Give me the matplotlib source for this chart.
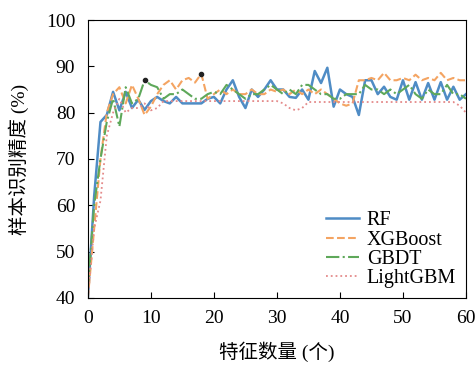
import matplotlib
matplotlib.use("Agg")
import matplotlib.pyplot as plt

plt.rcParams['font.family'] = ['Liberation Serif', 'Noto Sans CJK SC']
plt.rcParams['axes.unicode_minus'] = False

# Number of features 0..60
n_features = list(range(61))

rf = [40, 62, 78, 79.5, 84.5, 80.5, 84.5, 81, 82.8, 80.6,
      82.5, 83.4, 82.5, 82, 83.4, 82, 82, 82, 82, 83,
      83.4, 82, 85, 87, 83.4, 81, 85, 83.4, 85, 87,
      85, 85, 83.4, 83.2, 85, 82.8, 89, 86.4, 89.7, 81.3,
      85, 84, 83.4, 79.5, 87, 87, 84, 85.6, 83.4, 82.8,
      87, 82.8, 86.6, 82.8, 86.4, 82.8, 86.6, 82.8, 85.6, 82.8, 84]

xgboost = [40, 55, 70, 80, 84, 85.5, 82, 86, 83, 79.5,
           81.3, 84, 86, 87, 85, 87, 87.5, 86.5, 88.4, 83,
           84, 85, 84, 85, 84, 84, 85, 84, 84, 85,
           84.5, 85, 84, 85, 84, 85, 84, 85, 84, 83,
           82, 81.5, 82, 87, 87, 87.5, 87, 88.6, 87, 87,
           87.5, 87, 88.2, 87, 87.5, 87, 88.6, 87, 87.5, 87, 87]

gbdt = [42, 60, 70, 78, 83, 77, 85.5, 82, 83, 87,
        86, 85.5, 83, 84, 84, 85, 84, 83, 83, 84,
        84.5, 84, 86, 85, 84, 83, 84, 84, 85, 86,
        85, 84, 85, 84, 86, 86, 85, 84, 84, 83,
        83, 84, 84, 84, 86, 85, 85, 84, 85, 84,
        85, 86, 84, 83, 85, 84, 84, 86, 84, 84, 83]

lightgbm = [40, 55, 61, 75, 80, 83, 80, 81, 81, 82,
            80.5, 81, 82.5, 82.5, 82.5, 82.5, 82.5, 82.5, 82.5, 82.5,
            82.5, 82.5, 82.5, 82.5, 82.5, 82.5, 82.5, 82.5, 82.5, 82.5,
            82.5, 82, 81, 80.5, 81, 82.3, 82.3, 82.3, 82.3, 82.3,
            82.3, 82.3, 82.3, 82.3, 82.3, 82.3, 82.3, 82.3, 82.3, 82.3,
            82.3, 82.3, 82.3, 82.3, 82.3, 82.3, 82.3, 82.3, 82.3, 81.5, 80]

fig = plt.figure(figsize=(4.75, 3.65), dpi=100)
ax = fig.add_axes([0.185, 0.184, 0.796, 0.761])

ax.plot(n_features, rf, color='#4f8cc5', lw=1.8, ls='-', label='RF')
ax.plot(n_features, xgboost, color='#f4a462', lw=1.5, ls='--', label='XGBoost')
ax.plot(n_features, gbdt, color='#5ea85a', lw=1.5, ls='-.', label='GBDT')
ax.plot(n_features, lightgbm, color='#e48a8a', lw=1.3, ls=':', label='LightGBM')

# best points
ax.plot(n_features[9], gbdt[9], 'o', color='#222222', ms=3)
ax.plot(n_features[18], xgboost[18], 'o', color='#222222', ms=3)

ax.set_xlim(0, 60)
ax.set_ylim(40, 100)
ax.set_xticks(range(0, 61, 10))
ax.set_yticks(range(40, 101, 10))
ax.tick_params(direction='in', labelsize=14, length=4, pad=9)
ax.set_xlabel('特征数量 (个)', fontsize=14, labelpad=10)
ax.set_ylabel('样本识别精度 (%)', fontsize=14, labelpad=12)

ax.legend(loc='lower right', frameon=False, fontsize=14.5, labelspacing=0.0,
          handlelength=1.6, handletextpad=0.4, borderaxespad=0.1)

fig.savefig('out.png', dpi=100)
